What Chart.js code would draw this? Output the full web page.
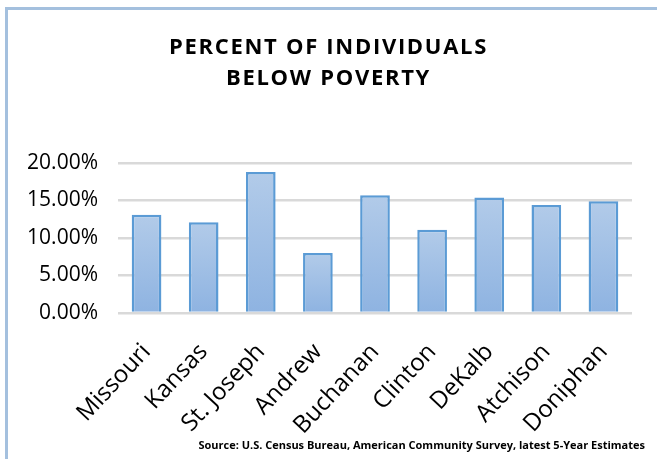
<!DOCTYPE html>
<html>
<head>
<meta charset="utf-8">
<script src="https://cdn.jsdelivr.net/npm/chart.js@4.4.1/dist/chart.umd.min.js"></script>
<style>
  html, body { margin: 0; padding: 0; background: #fff; overflow: hidden; }
  #frame {
    position: absolute; left: 5px; top: 7px; width: 720px; height: 520px;
    border-left: 3px solid #a4c0de; border-top: 3px solid #a4c0de;
  }
  #wrap { position: absolute; left: 0; top: 0; width: 657px; height: 459px; }
  #source {
    position: absolute; right: 12px; top: 437px;
    font: bold 11px "Open Sans", sans-serif; color: #000; white-space: nowrap;
  }
</style>
</head>
<body>
<div id="frame"></div>
<div id="wrap"><canvas id="poverty" width="657" height="459"></canvas></div>
<div id="source">Source: U.S. Census Bureau, American Community Survey, latest 5-Year Estimates</div>
<script>
const areas = ["Missouri", "Kansas", "St. Joseph", "Andrew", "Buchanan", "Clinton", "DeKalb", "Atchison", "Doniphan"];
const percentBelow = [13.1, 12.1, 18.8, 8.0, 15.7, 11.1, 15.4, 14.4, 14.9];
const titleLines = ["PERCENT OF INDIVIDUALS", "BELOW POVERTY"];

// each bar gets its own light-to-dark fill, top to bottom
const barFill = (ctx) => {
  const chart = ctx.chart;
  const y = chart.scales.y;
  if (!y || ctx.raw == null) return "#a3c2e6";
  const top = y.getPixelForValue(ctx.raw);
  const bottom = y.getPixelForValue(0);
  if (!isFinite(top) || top === bottom) return "#a3c2e6";
  const g = chart.ctx.createLinearGradient(0, top, 0, bottom);
  g.addColorStop(0, "#b2cbe9");
  g.addColorStop(1, "#8eb3e1");
  return g;
};

// the built-in title has no letter spacing, so draw the heading here
const spacedTitle = {
  id: "spacedTitle",
  afterDraw(chart) {
    const ctx = chart.ctx;
    ctx.save();
    ctx.font = 'bold 22px "Open Sans"';
    ctx.letterSpacing = "1.7px";
    ctx.textAlign = "center";
    ctx.textBaseline = "middle";
    ctx.fillStyle = "#000";
    titleLines.forEach((line, i) => {
      ctx.fillText(line, chart.width / 2, 48 + i * 31);
    });
    ctx.restore();
  },
};

let bars = new Chart(document.getElementById("poverty"), {
  type: "bar",
  data: {
    labels: areas,
    datasets: [
      {
        data: percentBelow,
        backgroundColor: barFill,
        borderColor: "#5b9bd5",
        borderWidth: 2.5,
        borderSkipped: "bottom",
        categoryPercentage: 1,
        barPercentage: 0.52,
      },
    ],
  },
  plugins: [spacedTitle],
  options: {
    responsive: false,
    devicePixelRatio: 1,
    animation: false,
    layout: { padding: { left: 0, right: 25, top: 163, bottom: 21 } },
    plugins: {
      legend: { display: false },
      tooltip: { enabled: false },
      title: { display: false },
    },
    scales: {
      y: {
        min: 0,
        max: 20,
        border: { display: false },
        grid: { color: "#d9d9d9", lineWidth: 2.5, drawTicks: false },
        ticks: {
          stepSize: 5,
          padding: 20,
          color: "#000",
          font: { family: "Open Sans", size: 21 },
          callback: (v) => v.toFixed(2) + "%",
        },
        afterFit: (scale) => { scale.width = 118; },
      },
      x: {
        border: { display: false },
        grid: { display: false },
        ticks: {
          autoSkip: false,
          minRotation: 47,
          maxRotation: 47,
          padding: 17,
          color: "#000",
          font: { family: "Open Sans", size: 24 },
        },
        afterFit: (scale) => { scale.height = 125; },
      },
    },
  },
});
</script>
</body>
</html>
